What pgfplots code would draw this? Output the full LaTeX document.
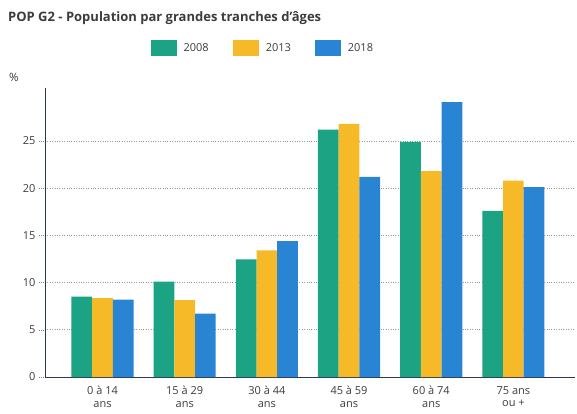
\documentclass[border=0pt]{standalone}
\usepackage{fontspec}
\setmainfont{Open Sans}
\usepackage{pgfplots}
\pgfplotsset{compat=1.18}
\definecolor{cvert}{RGB}{28,163,132}
\definecolor{cjaune}{RGB}{246,186,40}
\definecolor{cbleu}{RGB}{42,132,212}
\definecolor{ctexte}{RGB}{60,60,60}
\definecolor{caxe}{RGB}{45,55,85}
\begin{document}
\begin{tikzpicture}
\path[use as bounding box] (0,0) rectangle (577pt,413pt);
\node[anchor=west,font=\bfseries\fontsize{13}{15}\selectfont,text=ctexte,inner sep=0pt] at (8pt,395pt) {POP G2 - Population par grandes tranches d'âges};
\node[anchor=west,font=\fontsize{11.5}{13}\selectfont,text=ctexte,inner sep=0pt] at (9pt,336pt) {\%};
\begin{axis}[
  at={(45pt,36pt)}, anchor=south west,
  scale only axis, width=530pt, height=289pt,
  ybar=0pt, bar width=20.7pt,
  xmin=-0.7, xmax=5.75, ymin=0, ymax=30.6,
  xtick={0,1,2,3,4,5},
  xticklabels={{0 à 14\\ans},{15 à 29\\ans},{30 à 44\\ans},{45 à 59\\ans},{60 à 74\\ans},{75 ans\\ou +}},
  xticklabel style={align=center,font=\fontsize{11}{12.5}\selectfont,text=ctexte},
  ytick={0,5,10,15,20,25},
  yticklabel style={font=\fontsize{11}{12}\selectfont,text=ctexte},
  /pgf/number format/assume math mode=true,
  major x tick style={draw=none},
  major y tick style={gray,dotted},
  tick align=outside, major tick length=6pt,
  ymajorgrids, grid style={gray!80,dotted,line width=0.6pt},
  axis x line*=bottom, axis y line*=left,
  x axis line style={caxe,line width=0.9pt,-},
  y axis line style={caxe,line width=0.7pt,-},
  legend columns=3,
  legend style={at={(0.411,1.138)},anchor=center,draw=none,fill=none,
    font=\fontsize{11}{12}\selectfont,text=ctexte,
    /tikz/every odd column/.append style={column sep=5pt},
    /tikz/every even column/.append style={column sep=22pt}},
  legend image code/.code={\fill[#1] (0pt,-8pt) rectangle (26pt,8pt);},
]
\addplot[fill=cvert,draw=none] coordinates {(0,8.5) (1,10.1) (2,12.45) (3,26.2) (4,24.9) (5,17.6)};
\addplot[fill=cjaune,draw=none] coordinates {(0,8.35) (1,8.15) (2,13.4) (3,26.8) (4,21.8) (5,20.8)};
\addplot[fill=cbleu,draw=none] coordinates {(0,8.2) (1,6.7) (2,14.4) (3,21.2) (4,29.1) (5,20.1)};
\legend{2008,2013,2018}
\end{axis}
\end{tikzpicture}
\end{document}
